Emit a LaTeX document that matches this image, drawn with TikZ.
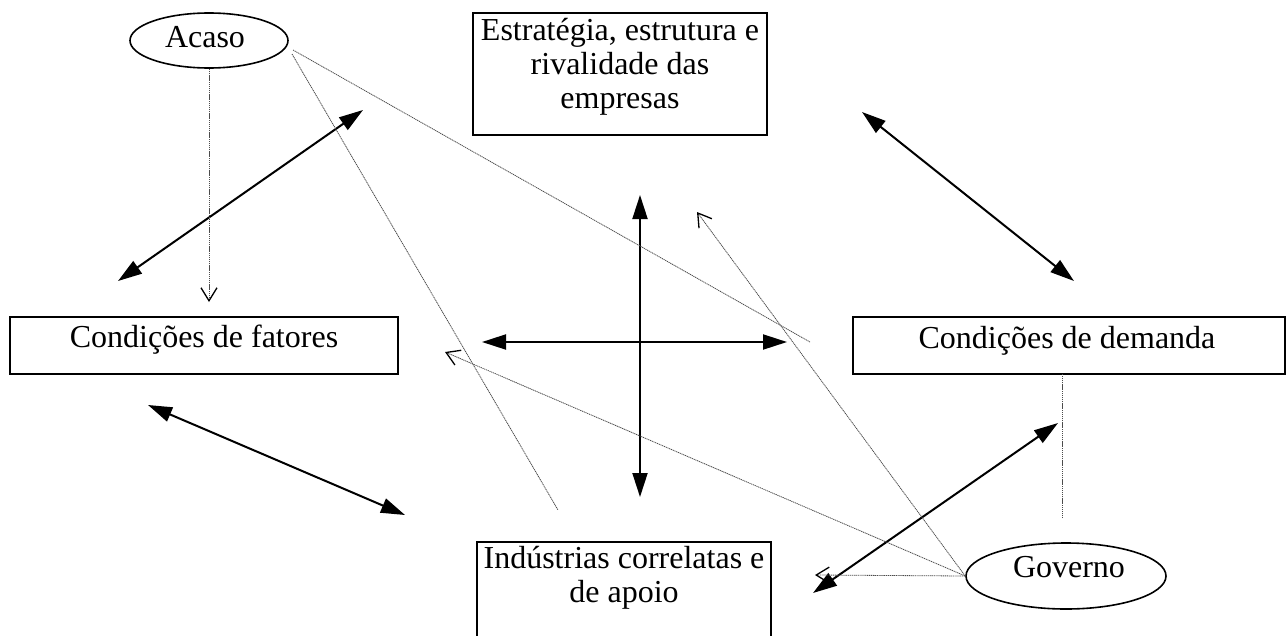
\documentclass[tikz,border=0pt]{standalone}
\usepackage{fontspec}
\setmainfont{Liberation Serif}
\usetikzlibrary{arrows.meta,shapes.geometric}
\begin{document}
\begin{tikzpicture}[x=1pt,y=-1pt,
  txt/.style={font=\fontsize{32}{34}\selectfont,align=center,inner sep=0pt},
  frame/.style={draw,line width=1.6pt,inner sep=0pt},
  oval/.style={draw,ellipse,line width=1.6pt,inner sep=0pt},
  link/.style={line width=2pt,{Triangle[length=24pt,width=15pt]}-{Triangle[length=24pt,width=15pt]}},
  hint/.style={black!70,line width=0.8pt,dash pattern=on 1.2pt off 0.7pt},
  hintarrow/.style={hint,-{Straight Barb[length=13pt,width=16pt,line width=1.3pt,black]}}
]
\useasboundingbox (0,0) rectangle (1287,635);

% the four determinants: frames and their texts
\node[frame,minimum width=294,minimum height=122] (estrbox) at (620,74) {};
\node[txt] (estr) at (620,67) {Estratégia, estrutura e\\rivalidade das\\empresas};
\node[frame,minimum width=388,minimum height=57] (fatbox) at (204,345.5) {};
\node[txt] (fat) at (204,340) {Condições de fatores};
\node[frame,minimum width=432,minimum height=57] (dembox) at (1069,345.5) {};
\node[txt] (dem) at (1067,341) {Condições de demanda};
\node[frame,minimum width=294,minimum height=110] (indbox) at (624,597) {};
\node[txt] (ind) at (624,578) {Indústrias correlatas e\\de apoio};

% the two outside factors
\node[oval,minimum width=158,minimum height=55] (acaso) at (209,40.5) {};
\node[txt] (acasot) at (205,37) {Acaso};
\node[oval,minimum width=200,minimum height=66] (gov) at (1066,576) {};
\node[txt] (govt) at (1069,567) {Governo};

% ends of the double arrows
\coordinate (a1s) at (118,281); \coordinate (a1e) at (363,110);
\coordinate (a2s) at (862,112); \coordinate (a2e) at (1074,281);
\coordinate (a3s) at (640,195); \coordinate (a3e) at (640,497);
\coordinate (a4s) at (482,342); \coordinate (a4e) at (787,342);
\coordinate (a5s) at (148,405); \coordinate (a5e) at (405,515);
\coordinate (a6s) at (813,593); \coordinate (a6e) at (1058,423);

\draw[link] (a1s) -- (a1e);
\draw[link] (a2s) -- (a2e);
\draw[link] (a3s) -- (a3e);
\draw[link] (a4s) -- (a4e);
\draw[link] (a5s) -- (a5e);
\draw[link] (a6s) -- (a6e);

% influence of chance
\coordinate (acR) at (293,50);
\coordinate (acR2) at (292,54);
\coordinate (t1e) at (209,302);
\coordinate (t2e) at (810,342);
\coordinate (t3e) at (558,510);
\draw[hintarrow] (acaso.south) -- (t1e);
\draw[hint] (acR) -- (t2e);
\draw[hint] (acR2) -- (t3e);

% influence of government
\coordinate (t4e) at (697,212);
\coordinate (t5e) at (445,352);
\coordinate (t6e) at (815,575);
\coordinate (t7s) at (1062,374);
\coordinate (t7e) at (1062,517);
\draw[hintarrow] (gov.west) -- (t4e);
\draw[hintarrow] (gov.west) -- (t5e);
\draw[hintarrow] (gov.west) -- (t6e);
\draw[hint] (t7s) -- (t7e);
\end{tikzpicture}
\end{document}
